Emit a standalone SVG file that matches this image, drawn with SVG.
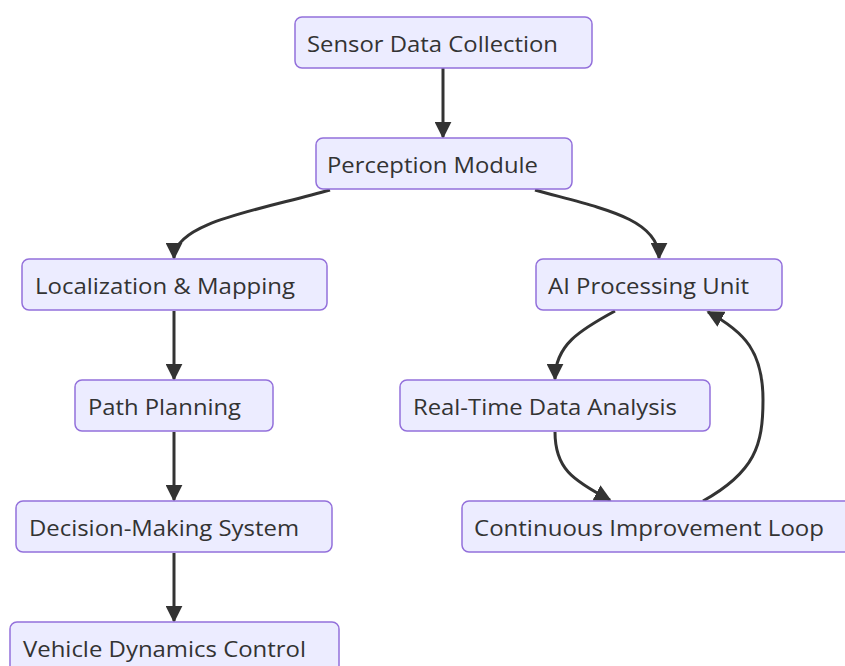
<svg xmlns="http://www.w3.org/2000/svg" width="845" height="666" viewBox="0 0 845 666">
<style>
.node rect{fill:#ECECFF;stroke:#9370DB;stroke-width:1.5}
.node text{font-family:"Open Sans","Noto Sans",sans-serif;font-size:22.5px;fill:#333}
.edge{fill:none;stroke:#333;stroke-width:3}
</style>
<defs>
<marker id="arr" viewBox="0 0 10 10" refX="9" refY="5" markerWidth="17" markerHeight="17" markerUnits="userSpaceOnUse" orient="auto">
<path d="M0,0 L10,5 L0,10 z" fill="#333"/>
</marker>
</defs>
<rect width="845" height="666" fill="#fff"/>
<g id="connectors">
<path class="edge" marker-end="url(#arr)" d="M443,68 L443,137"/>
<path class="edge" marker-end="url(#arr)" d="M330,190 C260,210 174,222 174,258"/>
<path class="edge" marker-end="url(#arr)" d="M535,190 C600,208 659,218 659,258"/>
<path class="edge" marker-end="url(#arr)" d="M174,311 L174,379"/>
<path class="edge" marker-end="url(#arr)" d="M174,432 L174,500"/>
<path class="edge" marker-end="url(#arr)" d="M174,553 L174,621"/>
<path class="edge" marker-end="url(#arr)" d="M615,311 C580,330 555,345 555,379"/>
<path class="edge" marker-end="url(#arr)" d="M555,432 C555,468 572,480 610,500"/>
<path class="edge" marker-end="url(#arr)" d="M703,501 C755,472 763,445 763,400 C763,352 745,332 708,312"/>
</g>
<g id="sensor" class="node"><rect x="295" y="17" width="297" height="51" rx="7"/><text x="307" y="52" textLength="251" lengthAdjust="spacingAndGlyphs">Sensor Data Collection</text></g>
<g id="perception" class="node"><rect x="316" y="138" width="256" height="51" rx="7"/><text x="327" y="173" textLength="211" lengthAdjust="spacingAndGlyphs">Perception Module</text></g>
<g id="localization" class="node"><rect x="22" y="259" width="305" height="51" rx="7"/><text x="35" y="294" textLength="260" lengthAdjust="spacingAndGlyphs">Localization &amp; Mapping</text></g>
<g id="ai" class="node"><rect x="536" y="259" width="246" height="51" rx="7"/><text x="548" y="294" textLength="201" lengthAdjust="spacingAndGlyphs">AI Processing Unit</text></g>
<g id="path" class="node"><rect x="75" y="380" width="198" height="51" rx="7"/><text x="88" y="415" textLength="153" lengthAdjust="spacingAndGlyphs">Path Planning</text></g>
<g id="realtime" class="node"><rect x="400" y="380" width="310" height="51" rx="7"/><text x="413" y="415" textLength="264" lengthAdjust="spacingAndGlyphs">Real-Time Data Analysis</text></g>
<g id="decision" class="node"><rect x="16" y="501" width="316" height="51" rx="7"/><text x="29" y="536" textLength="270" lengthAdjust="spacingAndGlyphs">Decision-Making System</text></g>
<g id="continuous" class="node"><rect x="462" y="501" width="400" height="51" rx="7"/><text x="474" y="536" textLength="350" lengthAdjust="spacingAndGlyphs">Continuous Improvement Loop</text></g>
<g id="vehicle" class="node"><rect x="10" y="622" width="329" height="51" rx="7"/><text x="23" y="657" textLength="283" lengthAdjust="spacingAndGlyphs">Vehicle Dynamics Control</text></g>
</svg>
